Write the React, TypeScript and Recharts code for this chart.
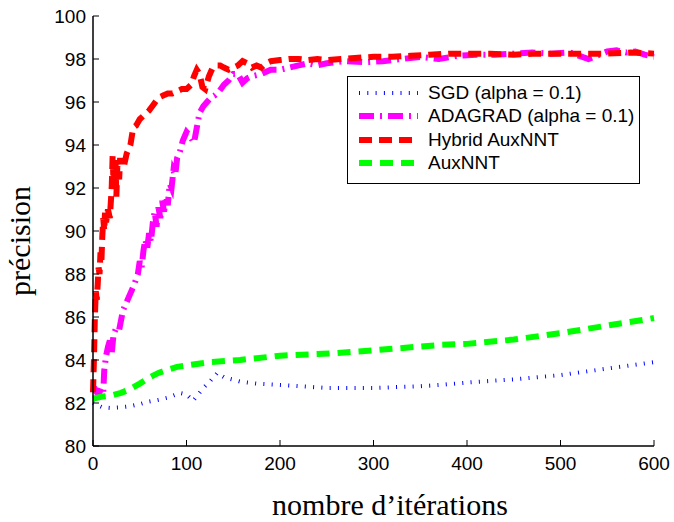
import { LineChart, Line, XAxis, YAxis, Legend, Label } from "recharts";

// iterations / precision
const sgdIter = [0, 10, 18, 30, 40, 50, 58, 70, 80, 93, 100, 107, 118, 125, 133, 140, 157, 175, 200, 250, 300, 350, 371, 400, 450, 500, 550, 600];
const sgdAcc = [82.0, 81.8, 81.77, 81.8, 81.85, 81.95, 82.05, 82.15, 82.25, 82.47, 82.4, 82.1, 82.7, 83.0, 83.4, 83.2, 83.0, 82.9, 82.84, 82.7, 82.7, 82.78, 82.84, 82.95, 83.1, 83.3, 83.6, 83.9];

const adaIter = [0, 3, 6, 9, 11, 12, 14, 16, 18, 20, 22, 25, 28, 32, 36, 40, 44, 48, 50, 52, 54, 56, 58, 60, 62, 64, 66, 68, 70, 72, 74, 76, 78, 80, 82, 84, 86, 88, 90, 93, 96, 100, 104, 108, 111, 114, 118, 122, 126, 130, 135, 140, 145, 150, 155, 160, 165, 170, 180, 190, 200, 210, 220, 230, 240, 250, 270, 290, 310, 330, 350, 370, 390, 410, 430, 450, 470, 490, 510, 530, 550, 560, 570, 580, 590, 600];
const adaAcc = [82.5, 82.6, 82.4, 82.7, 82.5, 83.5, 84.2, 84.6, 84.9, 84.3, 85.2, 85.5, 85.4, 86.3, 86.7, 87.1, 87.5, 88.0, 88.6, 88.3, 89.1, 89.6, 89.2, 89.9, 89.5, 90.4, 90.9, 90.2, 91.1, 90.6, 91.4, 90.9, 91.6, 91.2, 92.2, 92.0, 92.8, 92.6, 93.4, 93.7, 94.2, 94.6, 94.4, 94.1, 94.8, 95.5, 95.8, 96.0, 96.2, 96.3, 96.5, 96.8, 97.0, 97.3, 97.3, 96.9, 97.1, 97.2, 97.3, 97.5, 97.5, 97.6, 97.7, 97.8, 97.7, 97.8, 97.9, 97.85, 97.9, 98.0, 98.1, 98.0, 98.15, 98.2, 98.2, 98.25, 98.3, 98.25, 98.3, 98.0, 98.35, 98.4, 98.3, 98.35, 98.2, 98.1];

const hybIter = [0, 1, 2, 3, 4, 5, 6, 7, 8, 9, 10, 11, 12, 13, 14, 16, 18, 20, 21, 22, 24, 25, 26, 28, 29, 30, 33, 36, 40, 43, 46, 50, 55, 60, 65, 70, 75, 80, 85, 90, 95, 100, 105, 108, 111, 114, 117, 120, 124, 128, 132, 136, 140, 145, 150, 155, 160, 165, 170, 175, 180, 185, 190, 200, 210, 220, 230, 240, 250, 265, 280, 300, 320, 340, 360, 380, 400, 425, 450, 475, 500, 525, 550, 575, 600];
const hybAcc = [82.5, 84.0, 86.0, 87.2, 86.8, 87.5, 88.3, 88.0, 89.0, 88.6, 89.8, 90.6, 90.0, 91.0, 90.4, 91.0, 90.6, 92.0, 93.5, 92.2, 93.3, 91.6, 93.0, 92.4, 93.4, 93.0, 93.0, 93.6, 94.0, 94.8, 94.9, 95.2, 95.4, 95.6, 95.9, 96.2, 96.3, 96.4, 96.4, 96.5, 96.6, 96.6, 96.8, 97.2, 97.5, 97.3, 96.7, 96.6, 97.2, 97.6, 97.7, 97.7, 97.6, 97.5, 97.6, 97.7, 97.9, 97.8, 97.6, 97.7, 97.6, 97.8, 97.9, 97.95, 98.0, 98.0, 97.95, 98.0, 97.95, 98.0, 98.05, 98.1, 98.1, 98.15, 98.2, 98.25, 98.25, 98.25, 98.2, 98.25, 98.25, 98.25, 98.25, 98.3, 98.25];

const auxIter = [0, 10, 20, 30, 40, 50, 61, 70, 80, 90, 104, 125, 157, 200, 253, 300, 371, 400, 450, 500, 550, 600];
const auxAcc = [82.2, 82.3, 82.35, 82.47, 82.65, 82.9, 83.2, 83.4, 83.55, 83.68, 83.77, 83.9, 84.0, 84.2, 84.3, 84.45, 84.7, 84.75, 84.95, 85.25, 85.6, 85.95];

const xTicks = [0, 100, 200, 300, 400, 500, 600];
const yTicks = [80, 82, 84, 86, 88, 90, 92, 94, 96, 98, 100];

const series = [
  { key: "sgd", name: "SGD (alpha = 0.1)", color: "#0000ff", width: 4, dash: "1 7.3" },
  { key: "ada", name: "ADAGRAD (alpha = 0.1)", color: "#ff00ff", width: 6, dash: "15 6 2 6" },
  { key: "hyb", name: "Hybrid AuxNNT", color: "#ff0000", width: 6, dash: "13 7" },
  { key: "aux", name: "AuxNNT", color: "#00ff00", width: 6, dash: "13 8" },
];

const rows = new Map<number, any>();
function addSeries(iter: number[], acc: number[], key: string) {
  iter.forEach((x, i) => {
    const r = rows.get(x) ?? { x };
    r[key] = acc[i];
    rows.set(x, r);
  });
}
addSeries(sgdIter, sgdAcc, "sgd");
addSeries(adaIter, adaAcc, "ada");
addSeries(hybIter, hybAcc, "hyb");
addSeries(auxIter, auxAcc, "aux");
const data = [...rows.values()].sort((a, b) => a.x - b.x);

const SANS = "'Liberation Sans', Arial, Helvetica, sans-serif";
const SERIF = "'Liberation Serif', 'Times New Roman', serif";

const BottomTick = ({ x, y, payload }: any) => (
  <g>
    <line x1={x} x2={x} y1={y} y2={y - 6} stroke="#000" />
    <text x={x} y={y + 24} textAnchor="middle" fontSize={19} fontFamily={SANS} fill="#000">
      {payload.value}
    </text>
  </g>
);

const LeftTick = ({ x, y, payload }: any) => (
  <g>
    <line x1={x} x2={x + 6} y1={y} y2={y} stroke="#000" />
    <text x={x - 7} y={y + 7} textAnchor="end" fontSize={19} fontFamily={SANS} fill="#000">
      {payload.value}
    </text>
  </g>
);

const TopTick = ({ x, y }: any) => <line x1={x} x2={x} y1={y} y2={y + 6} stroke="#000" />;
const RightTick = ({ x, y }: any) => <line x1={x} x2={x - 6} y1={y} y2={y} stroke="#000" />;

function LegendBox() {
  return (
    <div
      style={{
        border: "1px solid #000",
        background: "#fff",
        width: 291,
        height: 102,
        boxSizing: "content-box",
        paddingTop: 4,
        fontFamily: SANS,
        fontSize: 19,
      }}
    >
      {series.map((s) => (
        <div key={s.key} style={{ display: "flex", alignItems: "center", height: 23.5 }}>
          <svg width={80} height={20} style={{ flex: "none" }}>
            <line x1={11} x2={70} y1={10} y2={10} stroke={s.color} strokeWidth={s.width} strokeDasharray={s.dash} />
          </svg>
          <span style={{ whiteSpace: "nowrap", lineHeight: "20px" }}>{s.name}</span>
        </div>
      ))}
    </div>
  );
}

export default function App() {
  return (
    <div style={{ position: "absolute", left: 0, top: 0, background: "#fff" }}>
      <LineChart width={674} height={522} data={data} margin={{ top: 16, right: 20, bottom: 0, left: 0 }}>
        <XAxis
          dataKey="x"
          type="number"
          domain={[0, 600]}
          ticks={xTicks}
          interval={0}
          height={76}
          tickSize={0}
          tickMargin={0}
          tickLine={false}
          axisLine={{ stroke: "#000", strokeWidth: 1.5 }}
          tick={<BottomTick />}
        >
          <Label
            content={() => (
              <text x={390} y={515} textAnchor="middle" fontSize={30} fontFamily={SERIF} fill="#000">
                nombre d’itérations
              </text>
            )}
          />
        </XAxis>
        <XAxis
          xAxisId="top"
          orientation="top"
          type="number"
          domain={[0, 600]}
          ticks={xTicks}
          interval={0}
          height={0}
          tickSize={0}
          tickMargin={0}
          tickLine={false}
          axisLine={{ stroke: "#000", strokeWidth: 1.5 }}
          tick={<TopTick />}
        />
        <YAxis
          type="number"
          domain={[80, 100]}
          ticks={yTicks}
          interval={0}
          width={93}
          tickSize={0}
          tickMargin={0}
          tickLine={false}
          axisLine={{ stroke: "#000", strokeWidth: 1.5 }}
          tick={<LeftTick />}
        >
          <Label
            content={() => (
              <text
                transform="translate(30,241) rotate(-90)"
                textAnchor="middle"
                fontSize={30}
                fontFamily={SERIF}
                fill="#000"
              >
                précision
              </text>
            )}
          />
        </YAxis>
        <YAxis
          yAxisId="right"
          orientation="right"
          type="number"
          domain={[80, 100]}
          ticks={yTicks}
          interval={0}
          width={0}
          tickSize={0}
          tickMargin={0}
          tickLine={false}
          axisLine={{ stroke: "#000", strokeWidth: 1.5 }}
          tick={<RightTick />}
        />
        {series.map((s) => (
          <Line
            key={s.key}
            type="linear"
            dataKey={s.key}
            name={s.name}
            stroke={s.color}
            strokeWidth={s.width}
            strokeDasharray={s.dash}
            strokeLinecap="butt"
            dot={false}
            activeDot={false}
            connectNulls
            isAnimationActive={false}
          />
        ))}
        <Legend
          layout="horizontal"
          verticalAlign="middle"
          content={<LegendBox />}
          wrapperStyle={{ position: "absolute", left: 347, top: 76, width: 293, height: 106, bottom: "auto", right: "auto" }}
        />
      </LineChart>
    </div>
  );
}
